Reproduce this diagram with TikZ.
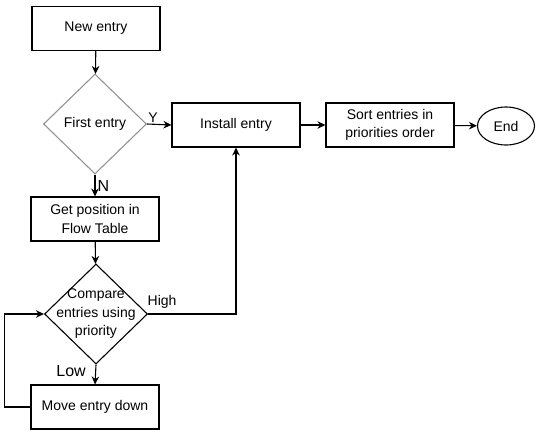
\documentclass[tikz,border=0pt]{standalone}
\usepackage{fontspec}
\setmainfont{Liberation Sans}
\usetikzlibrary{shapes.geometric, arrows.meta}
\begin{document}
\begin{tikzpicture}[x=1pt, y=-1pt, >={Stealth[length=8pt, width=7.5pt]}, line width=1.1pt,
        font=\fontsize{14}{18.5}\selectfont,
        box/.style={draw, rectangle, minimum width=128pt, minimum height=44pt, align=center},
        decision/.style={draw, diamond, minimum width=103pt, minimum height=100pt, inner sep=0pt},
        biglabel/.style={font=\fontsize{16}{18}\selectfont}]
        \useasboundingbox (0,0) rectangle (550,437);

        % Main column
        \node[box] (new) at (96, 28.5) {New entry};
        \node[decision, draw=gray!85] (first) at (95, 124)
            {First entry};
        \node[box] (getpos) at (95, 219) {Get position in\\Flow Table};
        \node[decision, label={[align=center]center:Compare\\entries using\\priority}] (compare) at (96, 314) {};
        \node[box] (move) at (95, 407) {Move entry down};

        % Right row
        \node[box] (install) at (236, 125) {Install entry};
        \node[box] (sort) at (390, 125) {Sort entries in\\priorities order};
        \node[draw, ellipse, minimum width=57pt, minimum height=38pt] (end) at (506, 126) {End};

        % Relations
        \draw[->] (new) -- (first);
        \draw[->] (first.east) -- node[pos=0.25, above, inner sep=1pt] {Y} (install.west);
        \draw[->] (first.south) -- node[midway, right, inner sep=2pt, biglabel] {N} (getpos.north);
        \draw[->] (getpos) -- (compare);
        \draw[->] (compare.south) -- node[pos=0.35, left=6pt, biglabel] {Low} (move.north);
        \draw[->] (install) -- (sort);
        \draw[->] (sort) -- (end);
        % loop back and exit towards install
        \draw[->] (move.west) -- ++(-26,0) |- (compare.west);
        \draw[->] (compare.east) -| node[pos=0.08, above=2pt] {High} (install.south);
    \end{tikzpicture}
\end{document}
